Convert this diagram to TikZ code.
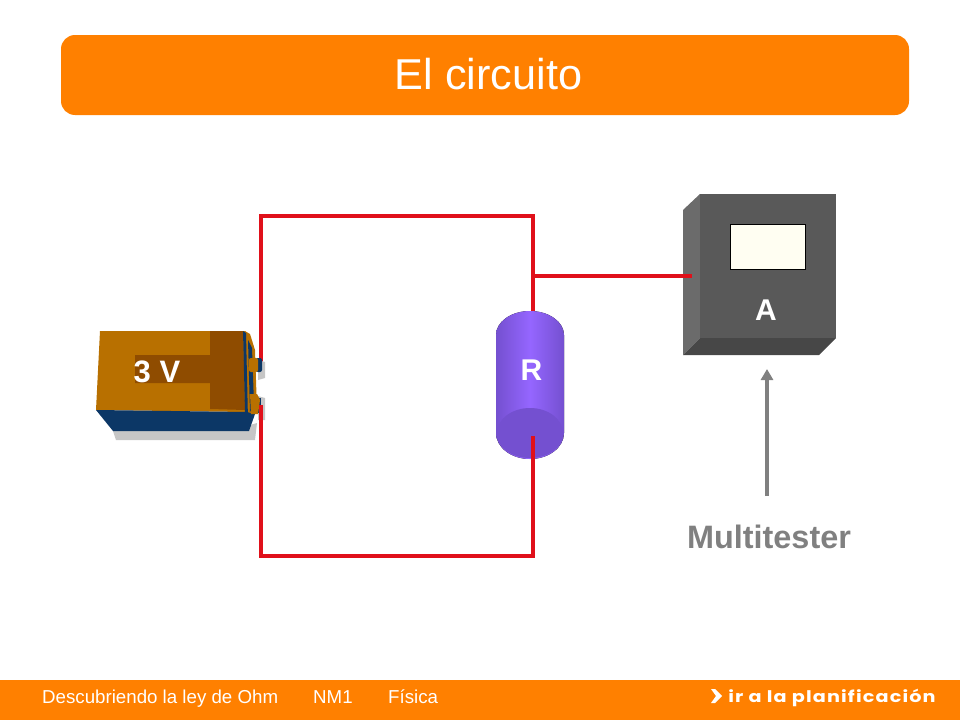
\documentclass[tikz,border=0pt]{standalone}
\usepackage{fontspec}
\setmainfont{Liberation Sans}
\newfontfamily\logofont[LetterSpace=6]{Poppins}
\usetikzlibrary{arrows.meta}
\definecolor{bandorange}{HTML}{FF8000}
\definecolor{wirered}{HTML}{E0101A}
\definecolor{battorange}{HTML}{B87000}
\definecolor{battbrown}{HTML}{8F4C00}
\definecolor{battblue}{HTML}{0C3766}
\definecolor{resviolet}{HTML}{9566FF}
\definecolor{resdark}{HTML}{7450D0}
\definecolor{labelgray}{HTML}{808080}
\tikzset{
  wire/.style={draw=wirered, line width=3.4pt, line join=miter},
  whitelabel/.style={text=white, font=\bfseries\fontsize{30}{30}\selectfont, inner sep=0pt},
  footlabel/.style={text=white, font=\fontsize{18.7}{20}\selectfont, inner sep=0pt, anchor=base west},
}
\begin{document}
\begin{tikzpicture}[x=1pt,y=-1pt]
\useasboundingbox (0,0) rectangle (960,720);

% bands
\fill[bandorange] (61,35) [rounded corners=14pt] rectangle (909,115);
\fill[bandorange] (0,680) rectangle (960,720);
\node[text=white, font=\fontsize{43.2}{45}\selectfont, inner sep=0pt] (title) at (488.5,74) {El circuito};
\node[footlabel] (topic) at (42,703) {Descubriendo la ley de Ohm};
\node[footlabel] (level) at (313,703) {NM1};
\node[footlabel] (subject) at (388,703) {Física};
\fill[white] (711,689) -- (715,689) -- (722,696) -- (715,703) -- (711,703) -- (716,696) -- cycle;
\node[text=white, font=\logofont\bfseries\fontsize{16}{18}\selectfont, inner sep=0pt, anchor=base west, xscale=1.2] (plan) at (728,702) {ir a la planificación};

% circuit
\coordinate (t1) at (261,362);
\coordinate (t2) at (261,405);
\coordinate (c1) at (261,216);
\coordinate (c2) at (533,216);
\coordinate (c3) at (261,556);
\coordinate (c4) at (533,556);
\coordinate (r1) at (533,312);
\coordinate (r2) at (533,436);
\coordinate (j) at (533,276);
\coordinate (m) at (692,276);
\draw[wire] (t1) -- (c1) -- (c2) -- (r1);

% battery
\fill[gray!45] (113,431) -- (116,440) -- (255,440) -- (257,423) -- (250,425) -- cycle;
\fill[gray!45] (258,360) -- (265,362) -- (265,378) -- (258,380) -- cycle;
\fill[gray!45] (258,396) -- (265,398) -- (265,420) -- (258,420) -- cycle;
\fill[battorange] (100,331) -- (245,331) -- (247,412) -- (96,410) -- cycle;
\fill[battbrown] (210,331) -- (243,331) -- (245,410) -- (210,409) -- (210,383) -- (135,383) -- (135,355) -- (210,355) -- cycle;
\fill[battorange] (245,331) -- (250,334) -- (255,350) -- (257,410) -- (255,414) -- (247,414) -- cycle;
\fill[battblue] (96,410) -- (247,412) -- (255,414) -- (249,431) -- (113,431) -- cycle;
\fill[battblue] (243,331) -- (246,333) -- (248,420) -- (245,412) -- cycle;
\fill[battblue] (248,340) -- (252,348) -- (254,404) -- (250,412) -- cycle;
\fill[battblue] (256,358) [rounded corners=2pt] rectangle (262,372);
\fill[battorange] (249,358) [rounded corners=2pt] rectangle (258,372);
\fill[battblue] (254,398) rectangle (261,413);
\fill[battorange] (250,394) -- (257,394) -- (260,400) -- (258,414) -- (251,414) -- cycle;
\node[whitelabel, font=\bfseries\fontsize{31}{31}\selectfont] (batt) at (157,372) {3 V};
\draw[wire] (t2) -- (c3) -- (c4) -- (r2);

% meter
\fill[black!58] (683,210) -- (700,194) -- (700,338) -- (683,355) -- cycle;
\fill[black!65] (700,194) rectangle (836,338);
\fill[black!72] (683,355) -- (700,338) -- (836,338) -- (819,355) -- cycle;
\node[draw=black, fill=white!95!yellow, line width=0.8pt, minimum width=75pt, minimum height=45pt, inner sep=0pt] (window) at (768,246.5) {};
\node[whitelabel] (meter) at (766,310) {A};
\draw[wire] (j) -- (m);

% resistor
\fill[left color=resdark, right color=resdark, middle color=resviolet] (496,335) arc[start angle=180, end angle=360, x radius=34, y radius=24] -- (564,433) arc[start angle=0, end angle=180, x radius=34, y radius=26] -- cycle;
\fill[resdark] (530,433) ellipse[x radius=33, y radius=25];
\node[whitelabel] (res) at (531.5,370) {R};
\draw[wire] (c4) -- (r2);

% label
\node[text=labelgray, font=\bfseries\fontsize{32.4}{34}\selectfont, inner sep=0pt] (tester) at (769,537) {Multitester};
\coordinate (a1) at (767,496);
\coordinate (a2) at (767,369);
\draw[-{Triangle[length=11pt,width=12pt]}, labelgray, line width=3.4pt] (a1) -- (a2);
\end{tikzpicture}
\end{document}
